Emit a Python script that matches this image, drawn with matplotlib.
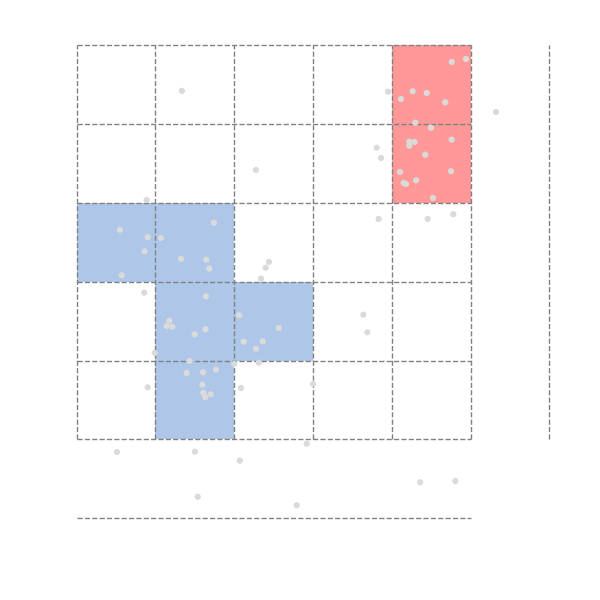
import matplotlib
matplotlib.use("Agg")
import matplotlib.pyplot as plt
import matplotlib.patches as mpatches

# ── data ──────────────────────────────────────────────────────────────────────
# highlighted grid cells: (col, row) of lower-left corner
blue_cells = [(0, 3), (1, 3), (1, 2), (1, 1), (2, 2)]
red_cells = [(4, 4), (4, 5)]

grid_rows = list(range(7))      # horizontal lines y = 0..6
grid_cols = list(range(7))      # vertical lines x = 0..6

pts_x = [1.336, 0.888, 3.950, 4.116, 3.807, 3.862, 2.275, 4.103, 4.150, 4.759,
         4.940, 4.264, 4.442, 4.678, 5.321, 4.297, 4.496, 4.759, 4.221, 4.289,
         4.221, 4.424, 4.750, 4.179, 4.306, 4.522, 3.832, 4.454, 4.779, 0.549,
         0.901, 1.070, 1.742, 0.863, 1.324, 1.645, 1.683, 0.571, 0.858, 1.641,
         2.063, 1.175, 1.142, 1.213, 1.497, 1.637, 0.990, 1.434, 2.000, 2.440,
         2.398, 2.339, 3.637, 3.688, 2.563, 2.119, 2.360, 2.275, 2.310, 1.396,
         1.603, 1.768, 0.901, 1.594, 1.607, 1.701, 1.632, 2.085, 2.999, 0.511,
         1.501, 2.070, 1.536, 2.919, 2.792, 4.360, 4.805]
pts_y = [5.424, 4.039, 5.414, 5.321, 4.703, 4.572, 4.420, 4.395, 4.255, 5.791,
         5.829, 5.419, 5.397, 5.279, 5.156, 5.020, 4.957, 4.805, 4.779, 4.775,
         4.728, 4.614, 4.404, 4.242, 4.289, 4.065, 3.798, 3.798, 3.858, 3.662,
         3.566, 3.557, 3.751, 3.388, 3.294, 3.282, 3.168, 3.084, 2.863, 2.817,
         2.576, 2.508, 2.440, 2.431, 2.335, 2.398, 2.098, 1.996, 1.958, 3.253,
         3.180, 3.041, 2.584, 2.360, 2.415, 2.241, 2.246, 2.152, 1.975, 1.844,
         1.853, 1.886, 1.662, 1.695, 1.594, 1.574, 1.536, 1.654, 1.704, 0.841,
         0.845, 0.731, 0.274, 0.947, 0.165, 0.457, 0.473]

# ── colours ───────────────────────────────────────────────────────────────────
C_BLUE = "#aec7e8"
C_RED = "#ff9896"
C_GRID = "#808080"
C_PT = "#dadada"

# ── plot ──────────────────────────────────────────────────────────────────────
fig = plt.figure(figsize=(6, 6), dpi=100)
ax = fig.add_axes([0, 0, 1, 1])

for (cx, cy) in blue_cells:
    ax.add_patch(mpatches.Rectangle((cx, cy), 1, 1, facecolor=C_BLUE,
                                    edgecolor="none", zorder=1))
for (cx, cy) in red_cells:
    ax.add_patch(mpatches.Rectangle((cx, cy), 1, 1, facecolor=C_RED,
                                    edgecolor="none", zorder=1))

ax.hlines(grid_rows, 0, 5, colors=C_GRID, linestyles="--", linewidth=1, zorder=2)
ax.vlines(grid_cols, 1, 6, colors=C_GRID, linestyles="--", linewidth=1, zorder=2)

ax.scatter(pts_x, pts_y, s=20, color=C_PT, edgecolors="none", zorder=3)

ax.set_xlim(-0.973, 6.641)
ax.set_ylim(-1.037, 6.577)
ax.axis("off")

plt.savefig("out.png", dpi=100)
